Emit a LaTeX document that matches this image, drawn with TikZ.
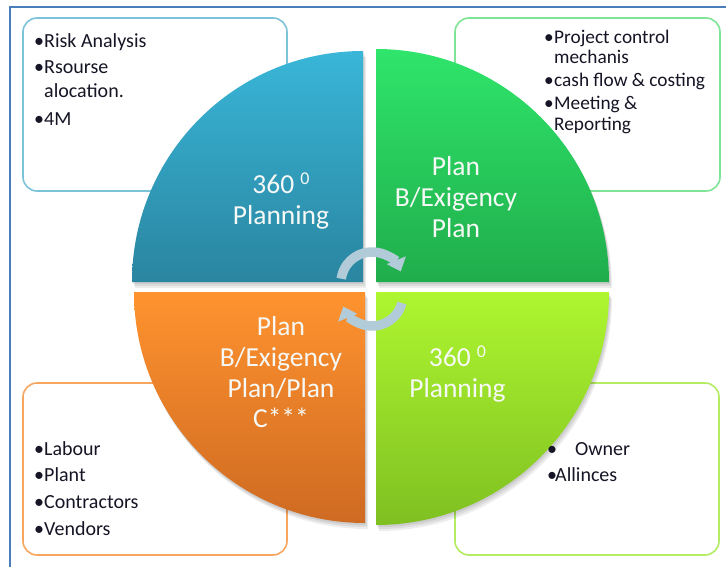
\documentclass[tikz,border=0pt]{standalone}
\usepackage{fontspec}
\setmainfont{Carlito}
\usetikzlibrary{arrows.meta}
\definecolor{framec}{HTML}{4A7EBB}
\definecolor{tlc}{HTML}{7CC3DA}
\definecolor{trc}{HTML}{80E496}
\definecolor{blc}{HTML}{F7A660}
\definecolor{brc}{HTML}{B4EC62}
\definecolor{blueT}{HTML}{39B6D8}
\definecolor{blueB}{HTML}{2A85A0}
\definecolor{greenT}{HTML}{2FE56B}
\definecolor{greenB}{HTML}{20AD4B}
\definecolor{orT}{HTML}{FF932F}
\definecolor{orB}{HTML}{CE6A22}
\definecolor{limeT}{HTML}{AEF630}
\definecolor{limeB}{HTML}{7FC021}
\definecolor{arrc}{HTML}{B2CBD8}
\definecolor{txtc}{HTML}{151525}
\definecolor{pietc}{HTML}{F6F8F6}
\tikzset{
  boxframe/.style={rounded corners=14pt, line width=1.6pt, fill=white},
  boxtxt/.style={anchor=base west, inner sep=0pt, text=txtc, font=\fontsize{20}{23}\selectfont},
  boxtxts/.style={anchor=base west, inner sep=0pt, text=txtc, font=\fontsize{19.3}{22}\selectfont},
  pietxt/.style={anchor=base, inner sep=0pt, text=pietc, font=\fontsize{27.5}{31}\selectfont},
  cycarrow/.style={line width=9.5pt, draw=arrc, -{Triangle[width=20pt,length=12pt]}},
  shad/.style={fill=black, opacity=0.07}
}
\newcommand{\degsup}{\raisebox{9pt}{\fontsize{18}{18}\selectfont 0}}
\begin{document}
\begin{tikzpicture}[x=1pt,y=-1pt]
\useasboundingbox (0,0) rectangle (726,567);
\fill[white] (0,0) rectangle (726,567);
% outer frame
\draw[framec, line width=2pt] (10,567) -- (10,7) -- (726,7);

% boxes
\draw[boxframe, draw=tlc] (23,18) rectangle (287,191);
\draw[boxframe, draw=trc] (455,18) rectangle (720,191);
\draw[boxframe, draw=blc] (23,383) rectangle (287,555);
\draw[boxframe, draw=brc] (455,383) rectangle (719,555);

% shadows of quadrants
\foreach \dx/\dy in {1/2,2/4,3/6}{
  \fill[shad] (363+\dx,282+\dy) -- ++(180:231) arc[start angle=180,end angle=270,radius=231] -- cycle;
  \fill[shad] (376+\dx,282+\dy) -- ++(270:233) arc[start angle=270,end angle=360,radius=233] -- cycle;
  \fill[shad] (365+\dx,292+\dy) -- ++(90:231) arc[start angle=90,end angle=180,radius=231] -- cycle;
  \fill[shad] (376+\dx,292+\dy) -- ++(0:233) arc[start angle=0,end angle=90,radius=233] -- cycle;
}
% quadrants
\shade[top color=blueT, bottom color=blueB] (363,282) -- ++(180:231) arc[start angle=180,end angle=270,radius=231] -- cycle;
\shade[top color=greenT, bottom color=greenB] (376,282) -- ++(270:233) arc[start angle=270,end angle=360,radius=233] -- cycle;
\shade[top color=orT, bottom color=orB] (365,292) -- ++(90:231) arc[start angle=90,end angle=180,radius=231] -- cycle;
\shade[top color=limeT, bottom color=limeB] (376,292) -- ++(0:233) arc[start angle=0,end angle=90,radius=233] -- cycle;

% cycle arrows
\draw[cycarrow] (372,283) ++(-172:31) arc[start angle=-172,end angle=-22,radius=31];
\draw[cycarrow] (372,295) ++(15:31) arc[start angle=15,end angle=158,radius=31];

% quadrant texts
\node[pietxt] (b1) at (281,193.3) {360 \degsup};
\node[pietxt] (b2) at (281,224) {Planning};
\node[pietxt] (g1) at (456,175.7) {Plan};
\node[pietxt] (g2) at (456,206.5) {B/Exigency};
\node[pietxt] (g3) at (456,237.3) {Plan};
\node[pietxt] (o1) at (281,335.7) {Plan};
\node[pietxt] (o2) at (281,366.7) {B/Exigency};
\node[pietxt] (o3) at (281,397.3) {Plan/Plan};
\node[pietxt] (o4) at (281,427.3) {C***};
\node[pietxt] (l1) at (457.5,366.7) {360 \degsup};
\node[pietxt] (l2) at (457.5,397.3) {Planning};

% top-left box text
\node[boxtxt] (tlb1) at (34,47.3) {•};
\node[boxtxt] (tlt1) at (44,47.3) {Risk Analysis};
\node[boxtxt] (tlb2) at (34,74) {•};
\node[boxtxt] (tlt2) at (44,74) {Rsourse};
\node[boxtxt] (tlt3) at (44,97.3) {alocation.};
\node[boxtxt] (tlb3) at (34,125.3) {•};
\node[boxtxt] (tlt4) at (44,125.3) {4M};

% top-right box text
\node[boxtxts] (trb1) at (544,43.3) {•};
\node[boxtxts] (trt1) at (554,43.3) {Project control};
\node[boxtxts] (trt2) at (554,63.3) {mechanis};
\node[boxtxts] (trb2) at (544,86.7) {•};
\node[boxtxts] (trt3) at (554,86.7) {cash flow \& costing};
\node[boxtxts] (trb3) at (544,110) {•};
\node[boxtxts] (trt4) at (554,110) {Meeting \&};
\node[boxtxts] (trt5) at (554,130.7) {Reporting};

% bottom-left box text
\node[boxtxt] (blb1) at (34,455) {•};
\node[boxtxt] (blt1) at (44,455) {Labour};
\node[boxtxt] (blb2) at (34,481) {•};
\node[boxtxt] (blt2) at (44,481) {Plant};
\node[boxtxt] (blb3) at (34,508.7) {•};
\node[boxtxt] (blt3) at (44,508.7) {Contractors};
\node[boxtxt] (blb4) at (34,535.3) {•};
\node[boxtxt] (blt4) at (44,535.3) {Vendors};

% bottom-right box text
\node[boxtxt] (brb1) at (547,455) {•};
\node[boxtxt] (brt1) at (575,455) {Owner};
\node[boxtxt] (brb2) at (547,481) {•};
\node[boxtxt] (brt2) at (555,481) {Allinces};
\end{tikzpicture}
\end{document}
